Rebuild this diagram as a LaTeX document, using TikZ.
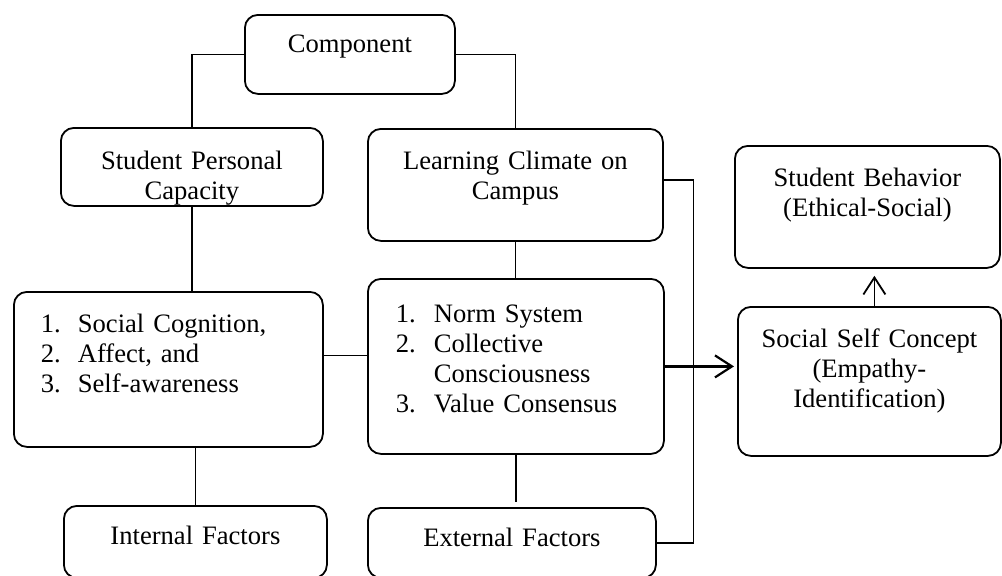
\documentclass[tikz,border=0pt]{standalone}
\usepackage{fontspec}
\setmainfont{Liberation Serif}
\usetikzlibrary{arrows.meta}

\begin{document}
\begin{tikzpicture}[x=1pt,y=-1pt,
  every node/.style={font=\fontsize{26.6}{30}\selectfont},
  box/.style={draw, line width=1.8pt, rounded corners=13pt, anchor=north west,
    inner sep=0pt, align=center},
  listbox/.style={box, align=left, inner xsep=27pt},
  link/.style={line width=1.2pt},
  arrowline/.style={line width=2.2pt, -{Straight Barb[length=17pt,width=22pt]}}]

  \useasboundingbox (0,0) rectangle (1002,576);
  \clip (0,0) rectangle (1002,576);

  \node[box, text width=210pt, text height=38pt, text depth=41pt]
    (comp) at (244,14) {Component};

  \node[box, text width=262pt, text height=42pt, text depth=36pt]
    (spc) at (60,127) {Student Personal\\Capacity};
  \node[box, text width=295pt, text height=41pt, text depth=71pt]
    (lcc) at (367,128) {Learning Climate on\\Campus};
  \node[box, text width=265pt, text height=41pt, text depth=81pt]
    (sb) at (734,145) {Student Behavior\\(Ethical-Social)};

  \node[listbox, text width=255pt, text height=41pt, text depth=114pt]
    (inner) at (13,291) {\begin{tabular}[t]{@{}p{37pt}@{}l@{}}
      1. & Social Cognition,\\
      2. & Affect, and\\
      3. & Self-awareness
    \end{tabular}};
  \node[listbox, inner xsep=28pt, text width=240pt, text height=44pt, text depth=131pt]
    (outer) at (367,278) {\begin{tabular}[t]{@{}p{38pt}@{}l@{}}
      1. & Norm System\\
      2. & Collective\\
         & Consciousness\\
      3. & Value Consensus
    \end{tabular}};
  \node[box, text width=263pt, text height=41pt, text depth=108pt]
    (ssc) at (737,306) {Social Self Concept\\(Empathy-\\Identification)};

  \node[box, text width=263pt, text height=39pt, text depth=33pt]
    (intf) at (63,505) {Internal Factors};
  \node[box, text width=288pt, text height=39pt, text depth=31pt]
    (extf) at (367,507) {External Factors};

  \draw[link] (comp.west) -| (spc.north); %% comp -> spc
  \draw[link] (comp.east) -| (lcc.north); %% comp -> lcc
  \draw[link] (spc.south) -- (spc.south |- inner.north);
  \draw[link] (lcc.south) -- (lcc.south |- outer.north);
  \draw[link] ([yshift=14pt]inner.east) -- ([yshift=14pt]inner.east -| outer.west);
  \draw[link] (intf.north |- inner.south) -- (intf.north);
  \draw[link, shorten >=5pt] (outer.south) -- (outer.south |- extf.north);
  \draw[link] ([yshift=5pt]lcc.east) -- ++(30,0) |- (extf.east); %% lcc ... extf

  \draw[arrowline, shorten >=3pt] (outer.east) -- (outer.east -| ssc.west);
  \draw[arrowline, line width=1.8pt, shorten >=7pt]
    ([xshift=5pt]ssc.north) -- ([xshift=5pt]ssc.north |- sb.south);

\end{tikzpicture}
\end{document}
